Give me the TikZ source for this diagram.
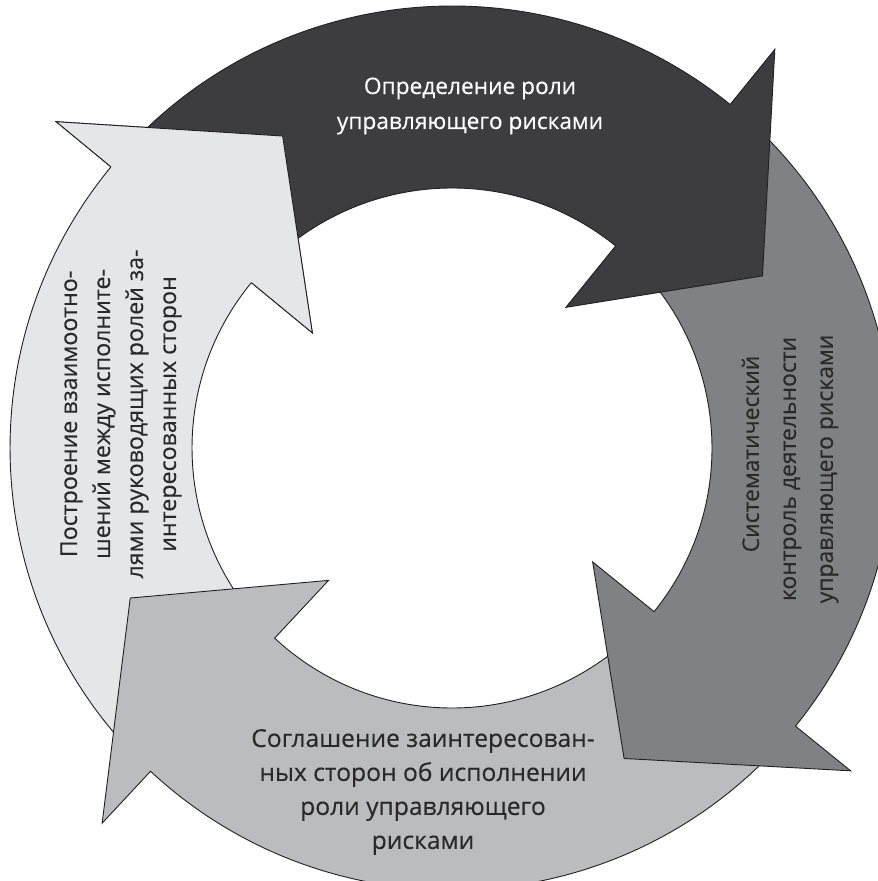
\documentclass[tikz,border=0pt]{standalone}
\usepackage{fontspec}
\setmainfont{Open Sans}[FakeBold=0.3]
\definecolor{stepdark}{HTML}{3D3D3F}
\definecolor{stepmid}{HTML}{808185}
\definecolor{steplight}{HTML}{BBBCBF}
\definecolor{steppale}{HTML}{E5E6E8}
\definecolor{inkline}{HTML}{231F20}
\definecolor{inktext}{HTML}{2A2829}
% ring radii and arrowhead geometry
\def\Rout{442}\def\Rin{260}
\def\Rbo{513}\def\Rbi{181}\def\Rtip{355}\def\Hsweep{22}
% \ringarrow{tail angle}{base angle}{fill colour}
\newcommand\ringarrow[3]{%
  \path[arrowband, fill=#3]
    (#1:\Rout) arc[start angle=#1, end angle=#2, radius=\Rout]
    -- (#2:\Rbo) -- ({#2-\Hsweep}:\Rtip) -- (#2:\Rbi) -- (#2:\Rin)
    arc[start angle=#2, end angle=#1, radius=\Rin] -- cycle;}
\begin{document}
\begin{tikzpicture}[x=1pt, y=1pt,
  arrowband/.style={draw=inkline, line width=0.9pt, line join=miter},
  lbl/.style={align=center, inner sep=0pt},
  dark lbl/.style={lbl, text=inktext},
  light lbl/.style={lbl, text=white}]
\useasboundingbox (-452,-433) rectangle (426,448);
% four bands, each head lying over the tail of the next one
\ringarrow{-134.5}{-219.5}{steppale}
\ringarrow{-40.5}{-133}{steplight}
\ringarrow{49.5}{-39}{stepmid}
\ringarrow{139}{51}{stepdark}
% head of the pale band again, on top of the dark band's tail
\fill[steppale] (140.5:\Rbo) -- (118.5:\Rtip) -- (140.5:\Rbi) -- cycle;
\draw[arrowband] (140.5:\Rout) -- (140.5:\Rbo) -- (118.5:\Rtip) -- (140.5:\Rbi) -- (140.5:\Rin);
% labels
\node[light lbl, font=\fontsize{22.7}{35}\selectfont] (role) at (18,342)
  {Определение роли\\управляющего рисками};
\node[dark lbl, rotate=90, font=\fontsize{22.9}{37}\selectfont] (control) at (338,-21)
  {\hbox{\kern30pt Систематический}\\контроль деятельности\\управляющего рисками};
\node[dark lbl, font=\fontsize{24.6}{34}\selectfont] (agree) at (-29,-344)
  {Соглашение заинтересован-\\ных сторон об исполнении\\роли управляющего\\рисками};
\node[dark lbl, rotate=90, font=\fontsize{23.2}{33}\selectfont] (build) at (-331,34)
  {Построение взаимоотно-\\шений между исполните-\\лями руководящих ролей за-\\интересованных сторон};
\end{tikzpicture}
\end{document}
